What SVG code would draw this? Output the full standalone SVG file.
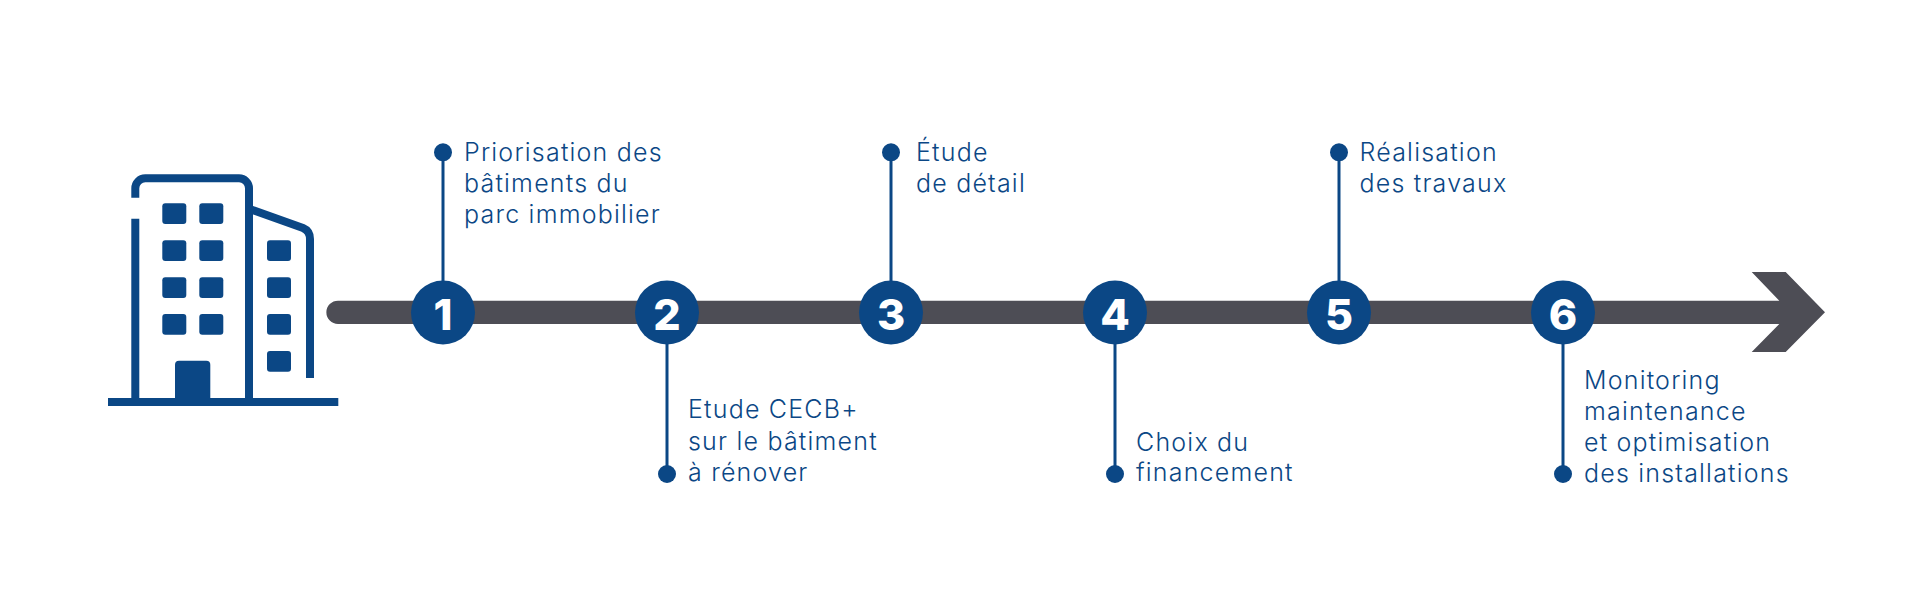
<svg xmlns="http://www.w3.org/2000/svg" width="1920" height="593" viewBox="0 0 1920 593">
<style>
.lbl{font-family:"Inter","Lato","Liberation Sans",sans-serif;font-weight:300;font-size:25px;letter-spacing:1.2px;fill:#0b4785}
.num{font-family:"Inter","Lato","Liberation Sans",sans-serif;font-weight:800;font-size:43px;fill:#fff;text-anchor:middle}
.badge{fill:#0b4785}
.dot{fill:#0b4785}
.stem{stroke:#0b4785;stroke-width:3;fill:none}
.win{fill:#0b4785}
.wall{stroke:#0b4785;stroke-width:8;fill:none}
</style>
<rect width="1920" height="593" fill="#fff"/>
<g id="timeline">
<path d="M338,300.7H1779.3L1751.7,272H1785.7L1825,312.3L1785.7,352H1751.7L1779.3,324H338A11.65,11.65 0 0 1 338,300.7Z" fill="#4d4d55"/>
</g>
<g id="connectors">
<path class="stem" d="M443,152V312"/>
<path class="stem" d="M667,312V474"/>
<path class="stem" d="M891,152V312"/>
<path class="stem" d="M1115,312V474"/>
<path class="stem" d="M1339,152V312"/>
<path class="stem" d="M1563,312V474"/>
</g>
<g id="building">
<path class="wall" d="M135.3,197.7V188.3A10,10 0 0 1 145.3,178.3H239A10,10 0 0 1 249,188.3V398"/>
<path class="wall" d="M135.3,218.7V398"/>
<path class="wall" d="M251,209.5L303,228Q310,231 310,239V378"/>
<rect x="108" y="398" width="230.300" height="8" fill="#0b4785"/>
<path d="M175,398V364.700A4,4 0 0 1 179,360.700H206.300A4,4 0 0 1 210.300,364.700V398Z" fill="#0b4785"/>
<rect class="win" x="162.300" y="203.300" width="24" height="20.700" rx="3"/>
<rect class="win" x="199.300" y="203.300" width="24" height="20.700" rx="3"/>
<rect class="win" x="162.300" y="240.300" width="24" height="20.700" rx="3"/>
<rect class="win" x="199.300" y="240.300" width="24" height="20.700" rx="3"/>
<rect class="win" x="162.300" y="277.300" width="24" height="20.700" rx="3"/>
<rect class="win" x="199.300" y="277.300" width="24" height="20.700" rx="3"/>
<rect class="win" x="162.300" y="314" width="24" height="20.700" rx="3"/>
<rect class="win" x="199.300" y="314" width="24" height="20.700" rx="3"/>
<rect class="win" x="267" y="240.300" width="24" height="20.700" rx="3"/>
<rect class="win" x="267" y="277.300" width="24" height="20.700" rx="3"/>
<rect class="win" x="267" y="314" width="24" height="20.700" rx="3"/>
<rect class="win" x="267" y="351" width="24" height="20.700" rx="3"/>
</g>
<g id="step-1">
<circle class="badge" cx="443" cy="312.500" r="32"/><text class="num" x="443" y="330">1</text>
<circle class="dot" cx="443" cy="152.300" r="9"/>
<text class="lbl" x="464" y="160.700">Priorisation des</text>
<text class="lbl" x="464" y="192">bâtiments du</text>
<text class="lbl" x="464" y="222.700">parc immobilier</text>
</g>
<g id="step-2">
<circle class="badge" cx="667" cy="312.500" r="32"/><text class="num" x="667" y="330">2</text>
<circle class="dot" cx="667" cy="474" r="9"/>
<text class="lbl" x="688" y="418.300">Etude CECB+</text>
<text class="lbl" x="688" y="450">sur le bâtiment</text>
<text class="lbl" x="688" y="480.700">à rénover</text>
</g>
<g id="step-3">
<circle class="badge" cx="891" cy="312.500" r="32"/><text class="num" x="891" y="330">3</text>
<circle class="dot" cx="891" cy="152.300" r="9"/>
<text class="lbl" x="916" y="160.700">Étude</text>
<text class="lbl" x="916" y="192">de détail</text>
</g>
<g id="step-4">
<circle class="badge" cx="1115" cy="312.500" r="32"/><text class="num" x="1115" y="330">4</text>
<circle class="dot" cx="1115" cy="474" r="9"/>
<text class="lbl" x="1136" y="450.700">Choix du</text>
<text class="lbl" x="1136" y="481">financement</text>
</g>
<g id="step-5">
<circle class="badge" cx="1339" cy="312.500" r="32"/><text class="num" x="1339" y="330">5</text>
<circle class="dot" cx="1339" cy="152.300" r="9"/>
<text class="lbl" x="1359.500" y="160.700">Réalisation</text>
<text class="lbl" x="1359.500" y="192">des travaux</text>
</g>
<g id="step-6">
<circle class="badge" cx="1563" cy="312.500" r="32"/><text class="num" x="1563" y="330">6</text>
<circle class="dot" cx="1563" cy="474" r="9"/>
<text class="lbl" x="1584" y="388.700">Monitoring</text>
<text class="lbl" x="1584" y="420">maintenance</text>
<text class="lbl" x="1584" y="451">et optimisation</text>
<text class="lbl" x="1584" y="482">des installations</text>
</g>
</svg>
